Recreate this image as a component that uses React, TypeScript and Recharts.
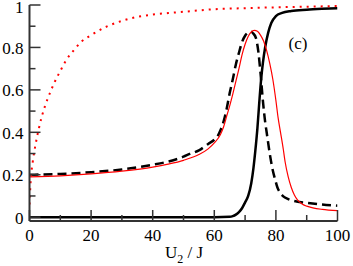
import { LineChart, Line, XAxis, YAxis } from "recharts";

// ── data ──
const dottedX = [0, 0.3, 0.6, 1, 1.5, 2, 2.6, 3, 4, 5, 6, 7, 8, 10, 12, 14, 17, 20, 25, 30, 35, 40, 45, 50, 60, 70, 80, 90, 100];
const dottedY = [0.06, 0.15, 0.21, 0.255, 0.305, 0.345, 0.389, 0.415, 0.475, 0.522, 0.562, 0.598, 0.632, 0.689, 0.742, 0.78, 0.829, 0.858, 0.898, 0.925, 0.944, 0.955, 0.962, 0.968, 0.98, 0.985, 0.989, 0.992, 0.995];

const redX = [0, 10, 20, 30, 40, 45, 50, 55, 58, 60, 62, 63, 64, 65, 66, 67, 68, 69, 70, 71, 72, 73, 74, 75, 76, 77, 78, 79, 80, 80.7, 81.5, 82.4, 83, 84, 85, 86, 87, 88, 89, 90, 92, 95, 100];
const redY = [0.19, 0.195, 0.204, 0.217, 0.236, 0.25, 0.268, 0.295, 0.322, 0.35, 0.39, 0.425, 0.475, 0.525, 0.58, 0.64, 0.7, 0.765, 0.815, 0.852, 0.873, 0.88, 0.876, 0.858, 0.83, 0.785, 0.725, 0.65, 0.55, 0.47, 0.4, 0.32, 0.26, 0.19, 0.14, 0.105, 0.082, 0.068, 0.058, 0.052, 0.044, 0.037, 0.031];

const dashX = [0, 10, 20, 30, 40, 45, 50, 52, 55, 58, 60, 61, 62, 63, 64, 65, 66, 67, 68, 69, 70, 71, 71.7, 72.5, 73.5, 74.3, 75, 75.9, 76.5, 77, 78, 79, 79.7, 80.5, 81.3, 82.4, 84, 86.7, 90, 95, 100];
const dashY = [0.2, 0.204, 0.212, 0.225, 0.247, 0.262, 0.285, 0.298, 0.315, 0.345, 0.365, 0.38, 0.41, 0.45, 0.51, 0.585, 0.65, 0.72, 0.775, 0.825, 0.855, 0.87, 0.875, 0.868, 0.845, 0.78, 0.68, 0.53, 0.45, 0.4, 0.3, 0.22, 0.18, 0.14, 0.117, 0.098, 0.085, 0.074, 0.068, 0.06, 0.054];

const solidX = [0, 20, 40, 60, 65, 66, 67, 68, 69, 70, 71, 72, 72.7, 73.3, 74, 74.6, 75.2, 75.8, 76.5, 77.5, 78.5, 80, 82, 85, 90, 95, 100];
const solidY = [0, 0, 0, 0, 0.002, 0.005, 0.012, 0.024, 0.042, 0.07, 0.1, 0.16, 0.23, 0.31, 0.42, 0.54, 0.65, 0.73, 0.8, 0.87, 0.915, 0.948, 0.963, 0.972, 0.978, 0.982, 0.985];

const xTicks = [0, 10, 20, 30, 40, 50, 60, 70, 80, 90, 100];
const yTicks = [0, 0.1, 0.2, 0.3, 0.4, 0.5, 0.6, 0.7, 0.8, 0.9, 1];

const toPoints = (xs: number[], ys: number[]) => xs.map((x, i) => ({ x, y: ys[i] }));

const FONT = "'Times New Roman', 'Liberation Serif', Tinos, 'Nimbus Roman', 'DejaVu Serif', serif";
const AXIS = "#333";

// inward ticks; labelled ones are the majors
const makeTick = (side: "bottom" | "top" | "left" | "right") => (props: any) => {
  const { x, y, payload } = props;
  const v = payload.value;
  const major = side === "bottom" || side === "top" ? v % 20 === 0 : Math.round(v * 10) % 2 === 0;
  const len = major ? 11 : 6;
  let line;
  if (side === "bottom") line = <line x1={x} y1={y} x2={x} y2={y - len} stroke={AXIS} strokeWidth={1.5} />;
  else if (side === "top") line = <line x1={x} y1={y} x2={x} y2={y + len} stroke={AXIS} strokeWidth={1.5} />;
  else if (side === "left") line = <line x1={x} y1={y} x2={x + len} y2={y} stroke={AXIS} strokeWidth={1.5} />;
  else line = <line x1={x} y1={y} x2={x - len} y2={y} stroke={AXIS} strokeWidth={1.5} />;
  return (
    <g>
      {line}
      {side === "bottom" && major && (
        <text x={x} y={y + 20} textAnchor="middle" style={{ fontFamily: FONT, fontSize: 17 }} fill="#000">
          {String(v)}
        </text>
      )}
      {side === "left" && major && (
        <text x={x - 6} y={Math.max(y + 6.5, 13)} textAnchor="end" style={{ fontFamily: FONT, fontSize: 17 }} fill="#000">
          {String(Math.round(v * 10) / 10)}
        </text>
      )}
    </g>
  );
};

export default function App() {
  return (
    <div style={{ position: "absolute", left: 0, top: 0, width: 353, height: 266, background: "#fff" }}>
      <LineChart width={353} height={266} margin={{ top: 5, right: 15.5, bottom: 0, left: 0 }}>
        <XAxis
          xAxisId="b"
          type="number"
          dataKey="x"
          domain={[0, 100]}
          ticks={xTicks}
          interval={0}
          tickSize={0}
          tickMargin={0}
          height={45}
          stroke={AXIS}
          strokeWidth={2}
          tick={makeTick("bottom")}
          allowDataOverflow
        />
        <XAxis
          xAxisId="t"
          orientation="top"
          type="number"
          dataKey="x"
          domain={[0, 100]}
          ticks={xTicks}
          interval={0}
          tickSize={0}
          tickMargin={0}
          height={0}
          stroke={AXIS}
          strokeWidth={2}
          tick={makeTick("top")}
        />
        <YAxis
          yAxisId="l"
          type="number"
          domain={[-0.018, 1]}
          ticks={yTicks}
          interval={0}
          tickSize={0}
          tickMargin={0}
          width={29.5}
          stroke={AXIS}
          strokeWidth={2}
          tick={makeTick("left")}
          allowDataOverflow
        />
        <YAxis
          yAxisId="r"
          orientation="right"
          type="number"
          domain={[-0.018, 1]}
          ticks={yTicks}
          interval={0}
          tickSize={0}
          tickMargin={0}
          width={0}
          stroke={AXIS}
          strokeWidth={2}
          tick={makeTick("right")}
        />
        <Line xAxisId="b" yAxisId="l" data={toPoints(solidX, solidY)} dataKey="y" type="monotone" stroke="#000" strokeWidth={2.5} dot={false} isAnimationActive={false} />
        <Line xAxisId="b" yAxisId="l" data={toPoints(dashX, dashY)} dataKey="y" type="monotone" stroke="#000" strokeWidth={2.5} strokeDasharray="9 5" dot={false} isAnimationActive={false} />
        <Line xAxisId="b" yAxisId="l" data={toPoints(redX, redY)} dataKey="y" type="monotone" stroke="#ff0000" strokeWidth={1.2} dot={false} isAnimationActive={false} />
        <Line xAxisId="b" yAxisId="l" data={toPoints(dottedX, dottedY)} dataKey="y" type="monotone" stroke="#ff0000" strokeWidth={2} strokeDasharray="2 5" dot={false} isAnimationActive={false} />
      </LineChart>
      <svg width={353} height={266} style={{ position: "absolute", left: 0, top: 0, pointerEvents: "none" }}>
        <text x={298} y={49} textAnchor="middle" style={{ fontFamily: FONT, fontSize: 17 }} fill="#000">(c)</text>
        <text x={165} y={258} style={{ fontFamily: FONT, fontSize: 17 }} fill="#000">
          U<tspan fontSize={12} dy={5}>2</tspan><tspan dy={-5}> / J</tspan>
        </text>
      </svg>
    </div>
  );
}
